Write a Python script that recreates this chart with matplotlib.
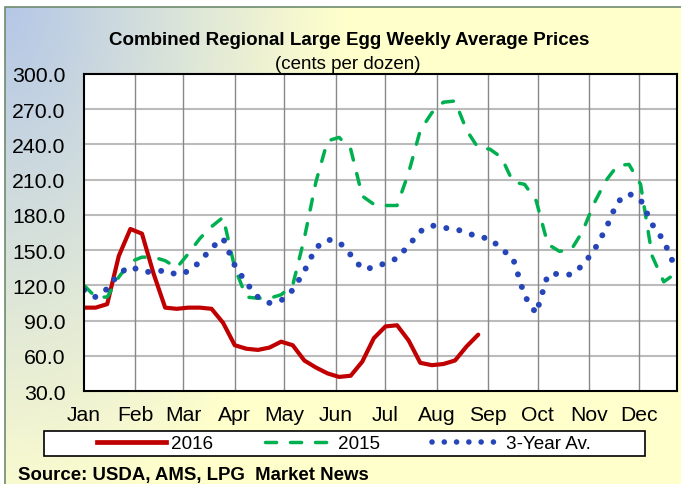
import numpy as np
import matplotlib
matplotlib.use('Agg')
import matplotlib.pyplot as plt
from matplotlib.patches import Rectangle
from matplotlib.lines import Line2D

plt.rcParams['font.family'] = ['Liberation Sans', 'DejaVu Sans']

# day-of-year of each weekly report
days = np.arange(0, 364, 7)

# month starts (2016, leap year) and labels
month_start = [0, 31, 60, 91, 121, 152, 182, 213, 244, 274, 305, 335]
months = ['Jan', 'Feb', 'Mar', 'Apr', 'May', 'Jun',
          'Jul', 'Aug', 'Sep', 'Oct', 'Nov', 'Dec']

# cents per dozen
p2016 = [101, 101, 104, 145, 168, 164, 130, 101, 100, 101, 101, 100,
         88, 69, 66, 65, 67, 72, 69, 56, 50, 45, 42, 43, 55, 75, 85,
         86, 73, 54, 52, 53, 56, 68, 78]
p2015 = [120, 110, 110, 127, 140, 144, 144, 141, 135, 147, 160, 170,
         178, 135, 110, 109, 109, 112, 120, 160, 208, 243, 246, 236, 196,
         189, 188, 188, 216, 252, 267, 276, 277, 252, 237, 236, 229, 208,
         206, 192, 155, 149, 150, 166, 190, 209, 222, 223, 206, 145, 123, 130]
p3yr = [116, 110, 117, 130, 136, 132, 131, 133, 129, 132, 140, 152,
        160, 137, 122, 110, 105, 107, 116, 132, 152, 159, 157, 146, 134,
        135, 139, 143, 154, 166, 171, 169, 168, 165, 161, 160, 151, 143,
        111, 96, 129, 130, 129, 137, 150, 168, 191, 198, 193, 172, 158, 135]

yticks = np.arange(30, 301, 30)

RED, GREEN, BLUE = '#c00000', '#00b050', '#2545b8'
dash15 = (0, (3.2, 4.0))
dot3 = (0, (0.01, 2.2))

W, H = 681, 485
fig = plt.figure(figsize=(W / 100, H / 100), dpi=100)

# gradient background (blue top-left -> pale yellow)
bg = fig.add_axes([0, 0, 1, 1], zorder=-10)
bg.set_axis_off()
gx, gy = np.meshgrid(np.linspace(0, 1, 300), np.linspace(0, 1, 300))
t = np.clip(np.sqrt((gx / 0.5) ** 2 + (gy / 1.1) ** 2), 0, 1)[..., None]
blue = np.array([0xb4, 0xc7, 0xe7]) / 255
yellow = np.array([0xff, 0xff, 0xcc]) / 255
img = blue * (1 - t) + yellow * t
bx0, by1 = 5 / W, 1 - 8 / H
bg.imshow(img, extent=[bx0, 1, 0, by1], aspect='auto', origin='upper')
bg.set_xlim(0, 1)
bg.set_ylim(0, 1)
bg.add_patch(Rectangle((bx0, -0.1), 1.2, by1 + 0.1, fill=False,
                       edgecolor='#6e8b6e', lw=1.2))

ax = fig.add_axes([84 / W, 1 - 392 / H, 593 / W, 317 / H])
ax.set_facecolor('white')

ax.plot(days[:len(p2016)], p2016, color=RED, lw=3.0,
        solid_capstyle='round', solid_joinstyle='round')
ax.plot(days[:len(p2015)], p2015, color=GREEN, lw=2.5,
        linestyle=dash15, dash_capstyle='round')
ax.plot(days[:len(p3yr)], p3yr, color=BLUE, lw=4.3,
        linestyle=dot3, dash_capstyle='round')

ax.set_xlim(0, 358)
ax.set_ylim(30, 300)
ax.set_yticks(yticks)
ax.set_yticklabels(['%.1f' % v for v in yticks], fontsize=15.3)
ax.set_xticks(month_start)
ax.set_xticklabels(months, fontsize=15.2)
ax.tick_params(axis='y', length=0, pad=13.5)
ax.tick_params(axis='x', length=0, pad=10)

for v in yticks[1:-1]:
    ax.axhline(v, color='#bbbbbb', lw=1.5, zorder=0)
for d in month_start[1:]:
    ax.axvline(d, color='#888888', lw=1.0, zorder=0)
for s in ax.spines.values():
    s.set_color('black')
    s.set_linewidth(1.5)

fig.text(349 / W, 1 - 45 / H, 'Combined Regional Large Egg Weekly Average Prices',
         ha='center', va='baseline', fontsize=13.5, fontweight='bold')
fig.text(348 / W, 1 - 69 / H, '(cents per dozen)',
         ha='center', va='baseline', fontsize=13.5)
fig.text(18 / W, 1 - 480 / H, 'Source: USDA, AMS, LPG  Market News',
         ha='left', va='baseline', fontsize=13.4, fontweight='bold')

# legend box
fig.add_artist(Rectangle((44 / W, 1 - 456.7 / H), 601 / W, 25 / H,
                         transform=fig.transFigure, facecolor='white',
                         edgecolor='black', lw=1.2, zorder=4))
handles = [
    Line2D([], [], color=RED, lw=3.4),
    Line2D([], [], color=GREEN, lw=2.5, linestyle=dash15,
           dash_capstyle='round'),
    Line2D([], [], color=BLUE, lw=4.0, linestyle=dot3,
           dash_capstyle='round'),
]
fig.legend(handles, ['2016', '2015', '3-Year Av.'], ncol=3,
           loc='center left', bbox_to_anchor=(97 / W, 1 - 444.5 / H),
           frameon=False, fontsize=13.6, handlelength=3.65,
           handletextpad=0.25, columnspacing=2.75,
           borderpad=0, borderaxespad=0)

fig.savefig('out.png', dpi=100)
